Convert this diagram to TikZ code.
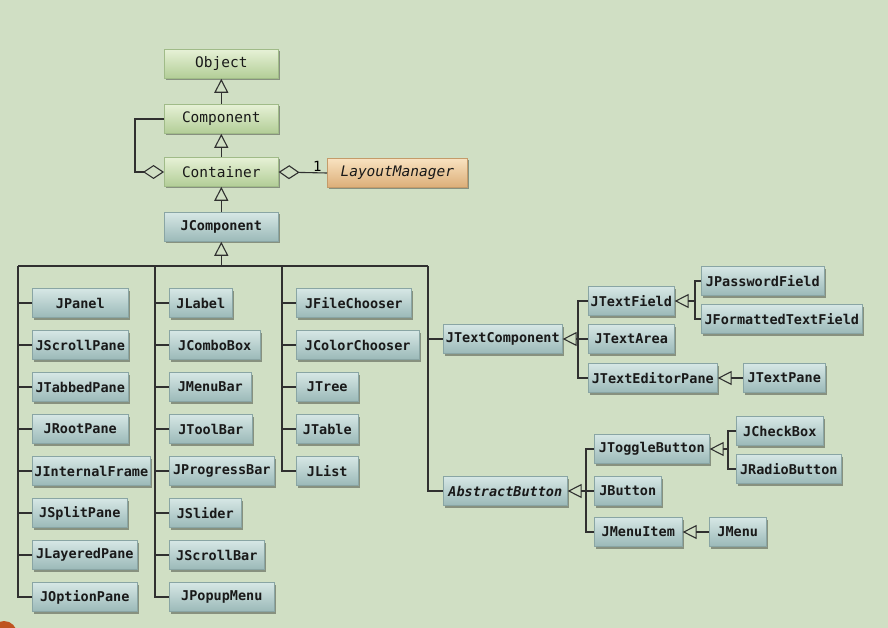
\documentclass[tikz,border=0pt]{standalone}
\usepackage{fontspec}
\setmonofont{DejaVu Sans Mono}
\usetikzlibrary{arrows.meta,shadows}
\definecolor{bg}{HTML}{D0DFC4}
\definecolor{ln}{HTML}{303030}
\definecolor{bluetop}{HTML}{D6E7E5}
\definecolor{bluebot}{HTML}{9BB9B8}
\definecolor{blueborder}{HTML}{89A5A4}
\definecolor{greentop}{HTML}{E6F1D6}
\definecolor{greenbot}{HTML}{B2CD96}
\definecolor{greenborder}{HTML}{A0BB88}
\definecolor{orangetop}{HTML}{F8E2C0}
\definecolor{orangebot}{HTML}{DCAE78}
\definecolor{orangeborder}{HTML}{C49B6A}
\definecolor{blob}{HTML}{BF5320}
\tikzset{
	box/.style={draw=#1border, line width=.6pt, top color=#1top, bottom color=#1bot,
		drop shadow={shadow xshift=1.5pt, shadow yshift=-2pt, fill=black, opacity=.35},
		anchor=west, minimum height=29pt, inner xsep=2pt, text=black!90},
	cls/.style={box=blue, font=\ttfamily\bfseries\fontsize{13.5}{16}\selectfont},
	awt/.style={box=green, minimum width=114pt, font=\ttfamily\fontsize{14.5}{17}\selectfont},
	gen/.style={draw=ln, -{Triangle[open, length=14pt, width=14pt]}},
	agg/.style={draw=ln, -{Diamond[open, length=21pt, width=14pt]}},
	link/.style={draw=ln}
}
\begin{document}
\begin{tikzpicture}[x=1pt, y=-1pt, line width=1.1pt]
	\useasboundingbox (0,0) rectangle (888,628);
	\fill [bg] (0,0) rectangle (888,628);
	\fill [blob] (4,634) circle (13pt);
	% awt
	\node [awt] (Object)    at (164,64)  {Object};
	\node [awt] (Component) at (164,119) {Component};
	\node [awt] (Container) at (164,172) {Container};
	\node [box=orange, minimum width=140pt, font=\ttfamily\itshape\fontsize{14.5}{17}\selectfont] (LayoutManager) at (327,173) {LayoutManager};
	\node [cls, minimum width=114pt] (JComponent) at (164,227) {JComponent};
	\draw [gen] (Component.north) -- (Object.south);
	\draw [gen] (Container.north) -- (Component.south);
	\draw [gen] (JComponent.north) -- (Container.south);
	\draw [agg] (Component.west) -- ++(-29,0) |- (Container.west);
	\draw [agg] (LayoutManager.west) -- node [pos=.2, above, inner sep=1pt, font=\ttfamily\fontsize{14}{16}\selectfont] (mult) {1} (Container.east);
	% swing columns
	\coordinate (b1) at (18,266);
	\coordinate (b2) at (155,266);
	\coordinate (b3) at (282,266);
	\coordinate (b4) at (428,266);
	\draw [link] (b1) -- (b4);
	\draw [gen] (JComponent.south |- b1) -- (JComponent.south);
	\foreach \n/\w [count=\i] in {JPanel/96, JScrollPane/96, JTabbedPane/96, JRootPane/96, JInternalFrame/118, JSplitPane/95, JLayeredPane/105, JOptionPane/105} {
		\node [cls, minimum width=\w] (\n) at (32,{261+42*\i}) {\n};
		\draw [link] (b1 |- \n.west) -- (\n.west);
	}
	\foreach \n/\w [count=\i] in {JLabel/63, JComboBox/91, JMenuBar/82, JToolBar/83, JProgressBar/105, JSlider/72, JScrollBar/95, JPopupMenu/105} {
		\node [cls, minimum width=\w] (\n) at (169,{261+42*\i}) {\n};
		\draw [link] (b2 |- \n.west) -- (\n.west);
	}
	\foreach \n/\w [count=\i] in {JFileChooser/115, JColorChooser/123, JTree/62, JTable/62, JList/62} {
		\node [cls, minimum width=\w] (\n) at (296,{261+42*\i}) {\n};
		\draw [link] (b3 |- \n.west) -- (\n.west);
	}
	\draw [link] (b1) |- (JOptionPane.west);
	\draw [link] (b2) |- (JPopupMenu.west);
	\draw [link] (b3) |- (JList.west);
	% text components
	\node [cls, minimum width=119] (JTextComponent) at (443,339) {JTextComponent};
	\node [cls, minimum width=86]  (JTextField)      at (588,301) {JTextField};
	\node [cls, minimum width=86]  (JTextArea)       at (588,339) {JTextArea};
	\node [cls, minimum width=129] (JTextEditorPane) at (588,378) {JTextEditorPane};
	\node [cls, minimum width=123] (JPasswordField)  at (701,281) {JPasswordField};
	\node [cls, minimum width=161] (JFormattedTextField) at (701,319) {JFormattedTextField};
	\node [cls, minimum width=82]  (JTextPane)       at (743,378) {JTextPane};
	% buttons
	\node [cls, minimum width=124, font=\ttfamily\bfseries\itshape\fontsize{13.5}{16}\selectfont] (AbstractButton) at (443,491) {AbstractButton};
	\node [cls, minimum width=115] (JToggleButton) at (594,449) {JToggleButton};
	\node [cls, minimum width=67]  (JButton)       at (594,491) {JButton};
	\node [cls, minimum width=88]  (JMenuItem)     at (594,532) {JMenuItem};
	\node [cls, minimum width=87]  (JCheckBox)     at (736,431) {JCheckBox};
	\node [cls, minimum width=105] (JRadioButton)  at (736,469) {JRadioButton};
	\node [cls, minimum width=57]  (JMenu)         at (709,532) {JMenu};
	\draw [link] (b4) |- (AbstractButton.west);
	\draw [link] (b4 |- JTextComponent.west) -- (JTextComponent.west);
	\coordinate (t1) at (578,339);
	\draw [gen] (t1) -- (JTextComponent.east);
	\draw [link] (JTextField.west) -| (t1) |- (JTextEditorPane.west);
	\draw [link] (t1) -- (JTextArea.west);
	\coordinate (t2) at (695,301);
	\draw [gen] (t2) -- (JTextField.east);
	\draw [link] (JPasswordField.west) -| (t2) |- (JFormattedTextField.west);
	\draw [gen] (JTextPane.west) -- (JTextEditorPane.east);
	\coordinate (a1) at (586,491);
	\draw [gen] (a1) -- (AbstractButton.east);
	\draw [link] (JToggleButton.west) -| (a1) |- (JMenuItem.west);
	\draw [link] (a1) -- (JButton.west);
	\coordinate (a2) at (728,449);
	\draw [gen] (a2) -- (JToggleButton.east);
	\draw [link] (JCheckBox.west) -| (a2) |- (JRadioButton.west);
	\draw [gen] (JMenu.west) -- (JMenuItem.east);
\end{tikzpicture}
\end{document}
